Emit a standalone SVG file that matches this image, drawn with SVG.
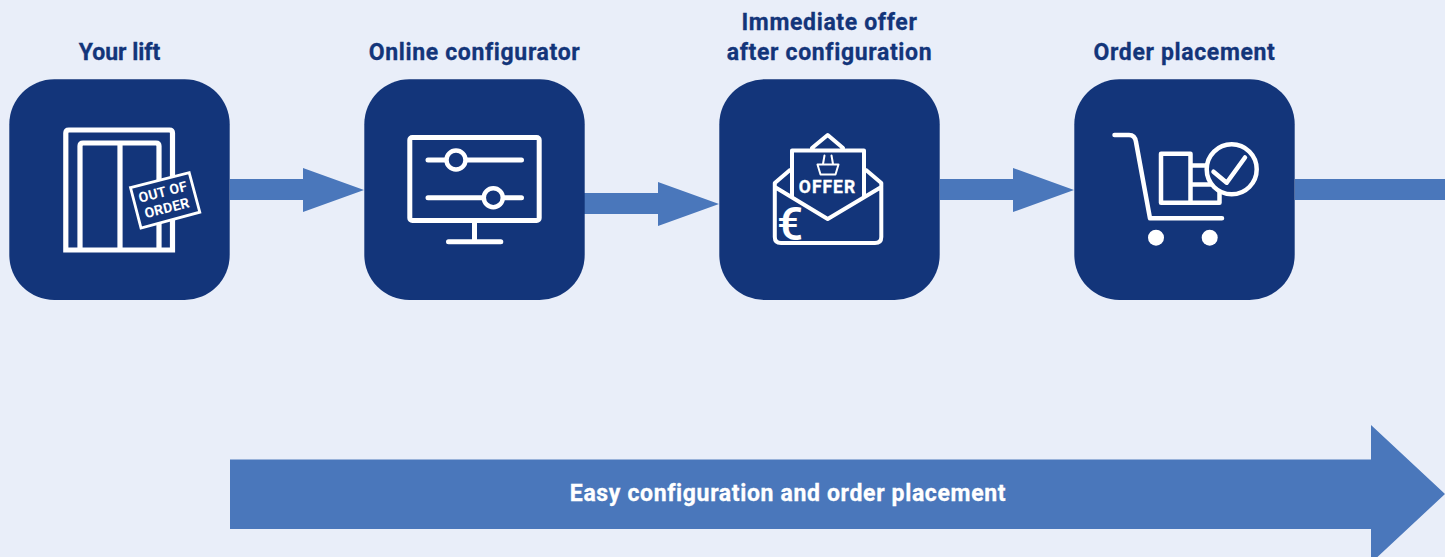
<svg xmlns="http://www.w3.org/2000/svg" width="1445" height="557" viewBox="0 0 1445 557">
<style>
text{font-family:"Roboto","Liberation Sans",sans-serif;font-weight:700;text-anchor:middle}
.t{font-size:23px;fill:#13357a;stroke:#13357a;stroke-width:.3px;letter-spacing:.65px}
.box{fill:#13357a}
.arr{fill:#4a77bb}
.l{fill:none;stroke:#fff;stroke-width:4.5;stroke-linecap:round;stroke-linejoin:round}
.w{fill:#fff}
</style>
<rect width="1445" height="557" fill="#e9eef9"/>
<g id="connectors">
<path class="arr" d="M230 179H303V168L364 190L303 212V200H230Z"/>
<path class="arr" d="M584 193H658V182L719 204L658 226V214H584Z"/>
<path class="arr" d="M940 179H1013V168L1074 190L1013 212V200H940Z"/>
<path class="arr" d="M1295 179H1445V200H1295Z"/>
</g>
<g id="node-lift">
<rect class="box" x="9.300" y="79.300" width="220.400" height="220.700" rx="45"/>
<path d="M65.800 250V133Q65.800 130 68.800 130H169.500Q172.500 130 172.500 133V250ZM80 250V146Q80 143 83 143H156Q159 143 159 146V250M120 143V250" fill="none" stroke="#fff" stroke-width="5.200"/>
<polygon points="130.500,187.600 189.200,172.600 199.800,212.200 141,228" fill="#13357a" stroke="#fff" stroke-width="2.800"/>
<g transform="translate(165 200) rotate(-14.500)"><text x="0" y="-3.500" class="w" font-size="14" letter-spacing=".3">OUT OF</text><text x="0" y="13" class="w" font-size="14" letter-spacing=".3">ORDER</text></g>
<text class="t" x="119.500" y="59.500" style="letter-spacing:0">Your lift</text>
</g>
<g id="node-configurator">
<rect class="box" x="364.300" y="79.300" width="220.400" height="220.700" rx="45"/>
<rect class="l" style="stroke-width:5" x="409.800" y="137.500" width="129.400" height="83" rx="2.500"/>
<path class="l" style="stroke-width:5" d="M428 160H521.500M428 197.700H521.500M474.500 221V241.700M448.500 241.700H500.800"/>
<circle cx="456" cy="160" r="9.500" fill="#13357a" stroke="#fff" stroke-width="4.500"/>
<circle cx="493.300" cy="197.700" r="9.500" fill="#13357a" stroke="#fff" stroke-width="4.500"/>
<text class="t" x="474.500" y="59.500">Online configurator</text>
</g>
<g id="node-offer">
<rect class="box" x="719.300" y="79.300" width="220.400" height="220.700" rx="45"/>
<path class="l" style="stroke-width:4" d="M774.800 187V237Q774.800 243 781 243H875Q881.300 243 881.300 237V187M774.800 187V183L790 170M881.300 187V183L866 170M812 148L827.700 135L843 148M774.800 187L827.700 219L881.300 187M792 197V150.500H864V197"/>
<path class="l" style="stroke-width:2" d="M817.500 164.500H838.500L835.500 174.500H820.500ZM823 164L824.500 155.500M833 164L831.500 155.500"/>
<text class="w" x="827.500" y="193.300" font-size="17.500" letter-spacing="1" stroke="#fff" stroke-width=".3">OFFER</text>
<text class="w" x="790" y="240" font-size="46" style="font-weight:500">€</text>
<text class="t" x="829.500" y="29.500">Immediate offer</text>
<text class="t" x="829.500" y="59.500">after configuration</text>
</g>
<g id="node-order">
<rect class="box" x="1074.300" y="79.300" width="220.400" height="220.700" rx="45"/>
<path class="l" d="M1114.500 135H1129Q1135 135 1136 142L1150 218.300H1222"/>
<circle class="w" cx="1156" cy="237.700" r="8"/>
<circle class="w" cx="1209.700" cy="237.700" r="8"/>
<path class="l" d="M1161 153.700H1190.500V202.800H1161ZM1190.500 165.500H1207M1190.500 184.500H1219.500V202.800H1190.500Z"/>
<circle cx="1231.700" cy="169.300" r="25" fill="#13357a" stroke="#fff" stroke-width="4.500"/>
<path class="l" d="M1213.500 171.700L1226.700 182.700L1245 157.500"/>
<text class="t" x="1184.500" y="59.500">Order placement</text>
</g>
<g id="banner">
<path class="arr" d="M230 459.500H1371V425L1445 494L1371 563V529H230Z"/>
<text x="788" y="501" font-size="23" letter-spacing=".65" fill="#fff" stroke="#fff" stroke-width=".3">Easy configuration and order placement</text>
</g>
</svg>
